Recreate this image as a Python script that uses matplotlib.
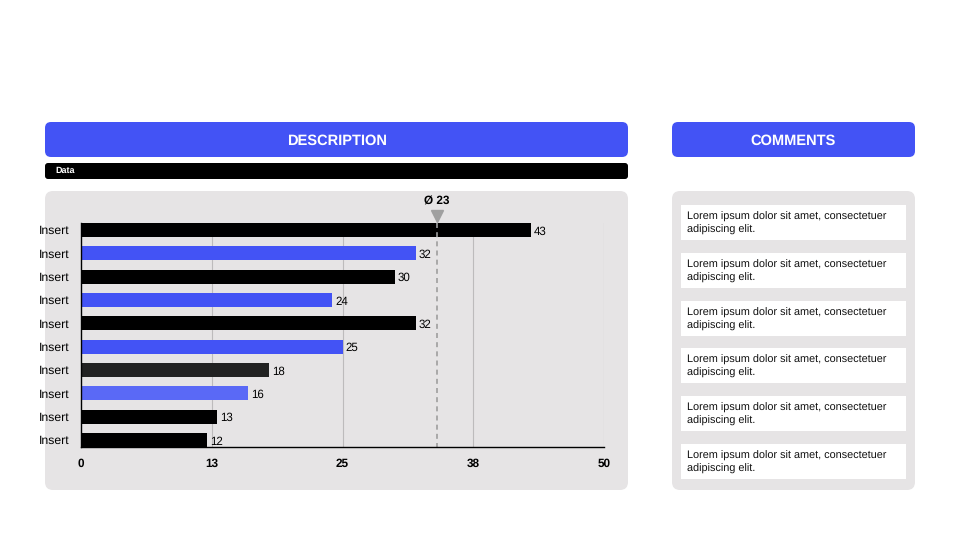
import matplotlib
matplotlib.use("Agg")
import matplotlib.pyplot as plt
from matplotlib.patches import FancyBboxPatch, Rectangle

plt.rcParams['font.family'] = ['Liberation Sans', 'DejaVu Sans']
plt.rcParams['text.hinting'] = 'no_hinting'

# ---- data ----
categories = ["Insert"] * 10
values = [43, 32, 30, 24, 32, 25, 18, 16, 13, 12]
bar_colors = ["#000000", "#4353F5", "#000000", "#4353F5", "#000000",
              "#4353F5", "#222222", "#5A69F6", "#000000", "#000000"]
x_ticks = [0, 12.5, 25, 37.5, 50]
x_tick_labels = ["0", "13", "25", "38", "50"]
avg_position = 34
avg_label = "Ø 23"
comments = ["Lorem ipsum dolor sit amet, consectetuer\nadipiscing elit."] * 6

BLUE = "#4353F5"
PANEL = "#E6E4E5"

W, H = 960, 540
fig = plt.figure(figsize=(9.6, 5.4), dpi=100)
bg = fig.add_axes([0, 0, 1, 1])
bg.set_xlim(0, W)
bg.set_ylim(H, 0)
bg.axis("off")

def rbox(x0, y0, x1, y1, color, r=6):
    p = FancyBboxPatch((x0 + r, y0 + r), (x1 - x0) - 2 * r, (y1 - y0) - 2 * r,
                       boxstyle=f"round,pad={r}", fc=color, ec="none")
    bg.add_patch(p)

# headers
rbox(45, 122, 628, 157, BLUE)
bg.text(336.5, 140.5, "DESCRIPTION", color="white", fontsize=10.5, fontweight="bold",
        ha="center", va="center")
rbox(45, 163, 628, 179, "#000000", r=3)
bg.text(55, 171, "Data", color="white", fontsize=6.5, fontweight="bold",
        ha="left", va="center")
rbox(45, 191, 628, 490, PANEL, r=8)

rbox(672, 122, 915, 157, BLUE)
bg.text(793.5, 140.5, "COMMENTS", color="white", fontsize=10.5, fontweight="bold",
        ha="center", va="center")
rbox(672, 191, 915, 490, PANEL, r=8)

box_tops = [205, 253, 301, 348, 396, 444]
for top, txt in zip(box_tops, comments):
    bg.add_patch(Rectangle((681, top), 225, 35, fc="white", ec="none"))
    bg.text(687, top + 18.5, txt, fontsize=7.8, ha="left", va="center",
            color="#111111", linespacing=1.38)

# chart axes (pixel box: x 81-604, y 223-447)
ax_l, ax_r, ax_t, ax_b = 81, 604, 223, 447
ax = fig.add_axes([ax_l / W, 1 - ax_b / H, (ax_r - ax_l) / W, (ax_b - ax_t) / H])
ax.set_facecolor("none")
ypos = list(range(len(values)))
ax.barh(ypos, values, height=0.6, color=bar_colors, zorder=3)
ax.set_ylim(len(values) - 1 + 0.3, -0.3)
ax.set_xlim(0, 50)
ax.set_xticks(x_ticks)
ax.set_xticklabels(x_tick_labels, fontweight="bold", fontsize=8.5)
ax.set_yticks(ypos)
ax.set_yticklabels(categories, fontsize=8.8)
ax.tick_params(axis="y", length=0, pad=8)
ax.tick_params(axis="x", length=0, pad=8)
for s in ["top", "right"]:
    ax.spines[s].set_visible(False)
for s in ["left", "bottom"]:
    ax.spines[s].set_color("black")
    ax.spines[s].set_linewidth(1.0)
    ax.spines[s].set_zorder(4)
for t in x_ticks[1:]:
    ax.axvline(t, color="#BDBBBC", lw=0.8, zorder=1)

for y, v in zip(ypos, values):
    ax.text(v + 0.3, y + 0.06, str(v), va="center", ha="left", fontsize=8.3, zorder=5)

# average line
ax.plot([avg_position, avg_position], [-0.3, len(values) - 1 + 0.3],
        color="#9E9E9E", lw=1.2, ls=(0, (3, 2.5)), zorder=4, clip_on=False)
ax.plot([avg_position], [-0.58], marker="v", color="#A0A0A0", markersize=8,
        clip_on=False, zorder=5)
ax.text(avg_position, -0.98, avg_label, ha="center", va="bottom",
        fontsize=8.5, fontweight="bold")

fig.savefig("out.png", dpi=100)
